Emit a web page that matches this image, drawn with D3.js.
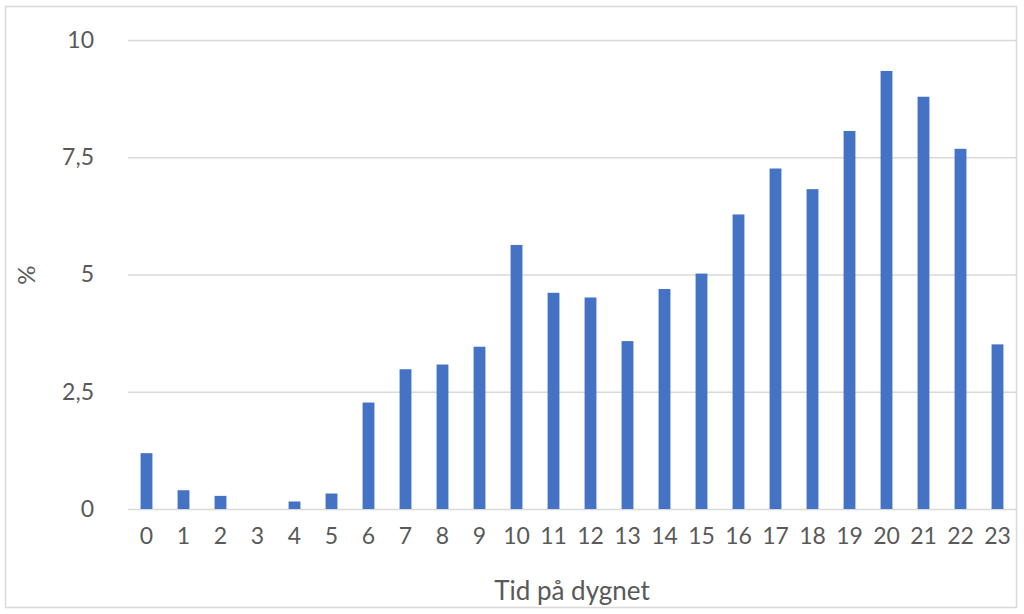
<!DOCTYPE html>
<html>
<head>
<meta charset="utf-8">
<script src="https://cdn.jsdelivr.net/npm/d3@7"></script>
<style>
  body { margin: 0; background: #fff; }
  text { font-family: Lato, "Open Sans", sans-serif; fill: #595959; }
</style>
</head>
<body>
<div id="chart"></div>
<script>
// Hours of day and share (%) per hour
const hours = d3.range(0, 24).map(String);
const shares = [1.19, 0.40, 0.28, 0, 0.16, 0.33, 2.27, 2.98, 3.08, 3.46, 5.63, 4.61,
                4.51, 3.58, 4.69, 5.02, 6.28, 7.26, 6.82, 8.06, 9.34, 8.79, 7.68, 3.51];
const yTicks = [0, 2.5, 5, 7.5, 10];
const yTickLabels = ['0', '2,5', '5', '7,5', '10'];
const xTitle = 'Tid på dygnet';
const yTitle = '%';

const W = 1024, H = 614;
const margin = {top: 40, right: 8, bottom: 105, left: 128};
const width = 1016 - margin.left;
const height = 509 - margin.top;

const svg = d3.select('#chart')
  .append('svg')
  .attr('width', W)
  .attr('height', H);

// Outer chart border
svg.append('rect')
  .attr('x', 5.5).attr('y', 6.5)
  .attr('width', 1011).attr('height', 601)
  .attr('fill', '#fff')
  .attr('stroke', '#d9d9d9')
  .attr('stroke-width', 1.5);

const g = svg.append('g')
  .attr('transform', `translate(${margin.left},${margin.top})`);

const x = d3.scaleBand()
  .domain(hours)
  .range([0, width])
  .paddingInner(0.68)
  .paddingOuter(0.34);

const y = d3.scaleLinear()
  .domain([0, 10])
  .range([height, 0]);

// Grid lines
const yAxis = d3.axisLeft(y)
  .tickValues(yTicks)
  .tickSize(-width)
  .tickFormat((d, i) => yTickLabels[i]);
const gy = g.append('g').call(yAxis);
gy.select('.domain').remove();
gy.selectAll('line').attr('stroke', '#d9d9d9').attr('stroke-width', 1.5);
gy.selectAll('text')
  .attr('x', -34)
  .style('font-size', '23px');

// Bars
g.append('g')
  .selectAll('rect')
  .data(shares)
  .enter().append('rect')
  .attr('x', (_, i) => x(hours[i]))
  .attr('y', d => y(d))
  .attr('width', x.bandwidth())
  .attr('height', d => y(0) - y(d))
  .attr('fill', '#4472c4');

// X axis labels
const xAxis = d3.axisBottom(x).tickSize(0).tickPadding(19);
const gx = g.append('g')
  .attr('transform', `translate(0,${height})`)
  .call(xAxis);
gx.select('.domain').remove();
gx.selectAll('text').style('font-size', '23px');

// Axis titles
svg.append('text')
  .attr('x', margin.left + width / 2)
  .attr('y', 600)
  .attr('text-anchor', 'middle')
  .style('font-size', '26px')
  .text(xTitle);

svg.append('text')
  .attr('transform', 'translate(35,275) rotate(-90)')
  .attr('text-anchor', 'middle')
  .style('font-size', '24px')
  .text(yTitle);
</script>
</body>
</html>
